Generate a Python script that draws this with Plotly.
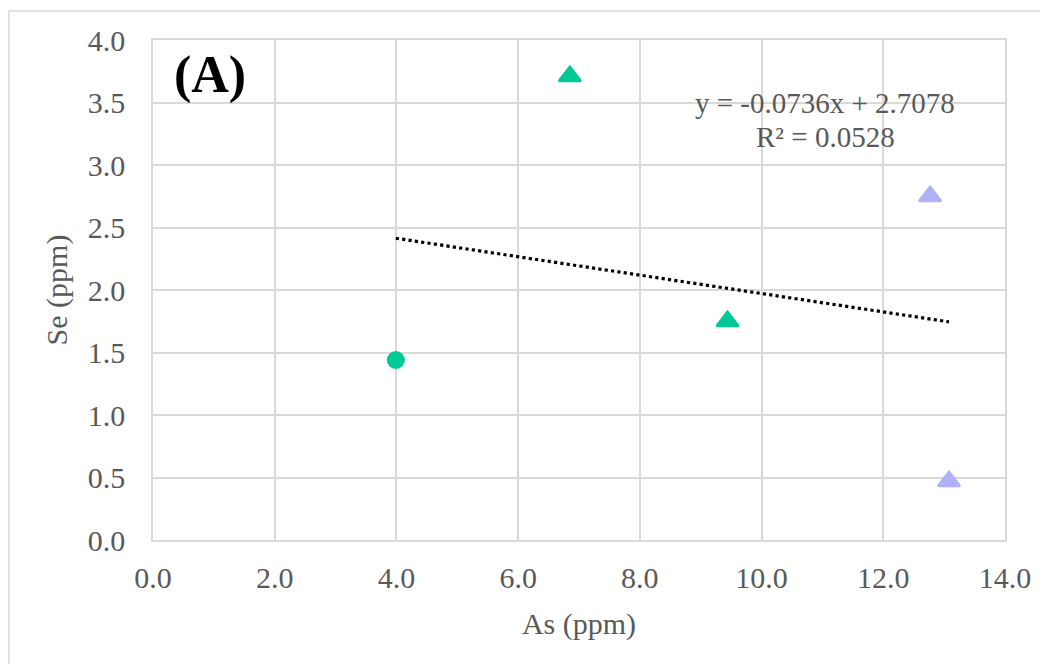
import plotly.graph_objects as go

# Data
as_circle = [3.99]
se_circle = [1.44]
as_green_tri = [6.85, 9.44]
se_green_tri = [3.71, 1.75]
as_lav_tri = [12.77, 13.08]
se_lav_tri = [2.75, 0.47]

slope = -0.0736
intercept = 2.7078
r2 = 0.0528

all_x = as_circle + as_green_tri + as_lav_tri
x_min, x_max = min(all_x), max(all_x)
trend_x = [x_min, x_max]
trend_y = [slope * v + intercept for v in trend_x]

x_ticks = [0, 2, 4, 6, 8, 10, 12, 14]
y_ticks = [0, 0.5, 1.0, 1.5, 2.0, 2.5, 3.0, 3.5, 4.0]

GREEN = "#00C896"
LAV = "#B1B1F8"
FONT = "Liberation Serif"
GRAY = "#595959"
GRID = "#D9D9D9"
FS = 30

L, R, T, B = 145, 51, 32, 132
PW, PH = 1048 - L - R, 664 - T - B

fig = go.Figure()
fig.add_trace(go.Scatter(x=trend_x, y=trend_y, mode="lines",
                         line=dict(color="#000000", width=3.2, dash="dot"),
                         showlegend=False, hoverinfo="skip"))
fig.add_trace(go.Scatter(x=as_circle, y=se_circle, mode="markers",
                         marker=dict(symbol="circle", size=18, color=GREEN),
                         showlegend=False))
fig.add_trace(go.Scatter(x=as_green_tri, y=se_green_tri, mode="markers",
                         marker=dict(symbol="triangle-up", size=19, color=GREEN,
                                     line=dict(color=GREEN, width=2.5)),
                         showlegend=False))
fig.add_trace(go.Scatter(x=as_lav_tri, y=se_lav_tri, mode="markers",
                         marker=dict(symbol="triangle-up", size=19, color=LAV,
                                     line=dict(color=LAV, width=2.5)),
                         showlegend=False))

fig.update_layout(
    width=1048, height=664,
    margin=dict(l=L, r=R, t=T, b=B),
    paper_bgcolor="white", plot_bgcolor="white",
    font=dict(family=FONT, size=FS, color=GRAY),
    xaxis=dict(range=[0, 14], tickvals=x_ticks,
               ticktext=[f"{v:.1f}" for v in x_ticks],
               showgrid=True, gridcolor=GRID, gridwidth=1.5,
               showline=True, linecolor=GRID, linewidth=1.5, mirror=True,
               zeroline=False, ticklabelstandoff=10,
               title=dict(text="As (ppm)", standoff=20,
                          font=dict(family=FONT, size=FS, color=GRAY))),
    yaxis=dict(range=[0, 4], tickvals=y_ticks,
               ticktext=[f"{v:.1f}" for v in y_ticks],
               showgrid=True, gridcolor=GRID, gridwidth=1.5,
               showline=True, linecolor=GRID, linewidth=1.5, mirror=True,
               zeroline=False, ticklabelstandoff=20,
               title=dict(text="Se (ppm)", standoff=11,
                          font=dict(family=FONT, size=FS, color=GRAY))),
)

fig.add_annotation(xref="paper", yref="paper", x=(172 - 153) / PW, y=(540 - 75) / PH,
                   xanchor="left", yanchor="middle", showarrow=False,
                   text="<b>(A)</b>", font=dict(family=FONT, size=52, color="#000000"))
fig.add_annotation(xref="paper", yref="paper", x=(825 - 153) / PW, y=(540 - 103) / PH,
                   xanchor="center", yanchor="middle", showarrow=False,
                   text=f"y = {slope:.4f}x + {intercept:.4f}",
                   font=dict(family=FONT, size=29, color=GRAY))
fig.add_annotation(xref="paper", yref="paper", x=(825 - 153) / PW, y=(540 - 137) / PH,
                   xanchor="center", yanchor="middle", showarrow=False,
                   text=f"R² = {r2:.4f}",
                   font=dict(family=FONT, size=29, color=GRAY))

# Outer chart border (left and top edges visible)
fig.add_shape(type="rect", xref="paper", yref="paper",
              x0=(1 - L) / PW, x1=(1300 - L) / PW,
              y0=(PH + T - 900) / PH, y1=(PH + T - 3) / PH,
              line=dict(color=GRID, width=1.5), fillcolor="rgba(0,0,0,0)", layer="below")

fig.write_html("out.html")
